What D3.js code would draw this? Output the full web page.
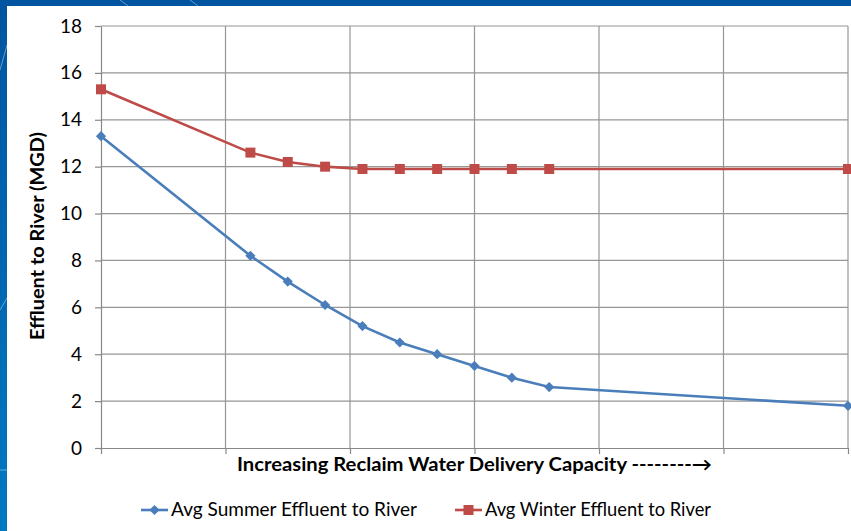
<!DOCTYPE html>
<html>
<head>
<meta charset="utf-8">
<script src="https://cdn.jsdelivr.net/npm/d3@7/dist/d3.min.js"></script>
<style>
  body { margin: 0; padding: 0; }
  svg { display: block; }
</style>
</head>
<body>
<svg id="chart" width="851" height="531"></svg>
<script>
// data
const capacity = [0, 1.2, 1.5, 1.8, 2.1, 2.4, 2.7, 3.0, 3.3, 3.6, 6];
const summer = [13.3, 8.2, 7.1, 6.1, 5.2, 4.5, 4.0, 3.5, 3.0, 2.6, 1.8];
const winter = [15.3, 12.6, 12.2, 12.0, 11.9, 11.9, 11.9, 11.9, 11.9, 11.9, 11.9];
const yTicks = [0, 2, 4, 6, 8, 10, 12, 14, 16, 18];
const xTicks = [0, 1, 2, 3, 4, 5, 6];
const seriesNames = ["Avg Summer Effluent to River", "Avg Winter Effluent to River"];

const width = 851;
const height = 531;
const margin = { top: 26, right: 3, bottom: 83, left: 101 };
const font = "Lato, 'Open Sans', sans-serif";

const svg = d3.select("#chart");

// slide background
const defs = svg.append("defs");
const grad = defs.append("linearGradient").attr("id", "bg")
  .attr("x1", 0).attr("y1", 0).attr("x2", 0).attr("y2", 1);
grad.append("stop").attr("offset", "0%").attr("stop-color", "#0054a0");
grad.append("stop").attr("offset", "100%").attr("stop-color", "#0079c2");
svg.append("rect").attr("width", width).attr("height", height).attr("fill", "url(#bg)");

// faint decorative lines on the backdrop
const deco = [[0, 70, 7, 45], [0, 310, 7, 298], [0, 470, 7, 470], [120, 0, 128, 6], [190, 0, 198, 6]];
deco.forEach(d => {
  svg.append("line")
    .attr("x1", d[0]).attr("y1", d[1]).attr("x2", d[2]).attr("y2", d[3])
    .attr("stroke", "#ffffff").attr("stroke-opacity", 0.5).attr("stroke-width", 0.8);
});

// white chart panel
svg.append("rect").attr("x", 7).attr("y", 6).attr("width", width - 7).attr("height", height - 6).attr("fill", "#ffffff");

// Scales
const xScale = d3.scaleLinear().domain([0, 6]).range([margin.left, width - margin.right]);
const yScale = d3.scaleLinear().domain([0, 18]).range([height - margin.bottom, margin.top]);

// Gridlines
const grid = svg.append("g");
grid.selectAll(".hg").data(yTicks.filter(d => d > 0)).join("line")
  .attr("x1", margin.left).attr("x2", width - margin.right)
  .attr("y1", d => yScale(d)).attr("y2", d => yScale(d))
  .attr("stroke", "#969696").attr("stroke-width", 1.2);
grid.selectAll(".vg").data(xTicks.filter(d => d > 0)).join("line")
  .attr("x1", d => xScale(d)).attr("x2", d => xScale(d))
  .attr("y1", margin.top).attr("y2", yScale(0))
  .attr("stroke", "#969696").attr("stroke-width", 1.2);

// Axes
const yAxis = d3.axisLeft(yScale).tickValues(yTicks).tickSize(6).tickPadding(13).tickSizeOuter(0);
const yG = svg.append("g").attr("transform", `translate(${margin.left},0)`).call(yAxis);
const xAxis = d3.axisBottom(xScale).tickValues(xTicks).tickSize(6).tickFormat("").tickSizeOuter(0);
const xG = svg.append("g").attr("transform", `translate(0,${yScale(0)})`).call(xAxis);
[yG, xG].forEach(g => {
  g.select(".domain").attr("stroke", "#888888").attr("stroke-width", 1.2);
  g.selectAll(".tick line").attr("stroke", "#888888").attr("stroke-width", 1.2);
});
yG.selectAll(".tick text")
  .attr("font-family", font).attr("font-size", "19px").attr("fill", "#000");

// Lines
const series = [
  { name: seriesNames[0], values: summer, color: "#4a7ebb", diamond: true },
  { name: seriesNames[1], values: winter, color: "#be4b48", diamond: false }
];

const line = d3.line()
  .x((d, i) => xScale(capacity[i]))
  .y(d => yScale(d));

const marker = s => d3.symbol().type(d3.symbolSquare).size(s.diamond ? 52 : 100)();
const markerRot = s => (s.diamond ? " rotate(45)" : "");

series.forEach(s => {
  svg.append("path")
    .datum(s.values)
    .attr("fill", "none")
    .attr("stroke", s.color)
    .attr("stroke-width", 2.6)
    .attr("d", line);

  svg.append("g").selectAll("path").data(s.values).join("path")
    .attr("transform", (d, i) => `translate(${xScale(capacity[i])},${yScale(d)})` + markerRot(s))
    .attr("d", marker(s))
    .attr("fill", s.color);
});

// Axis titles
svg.append("text")
  .attr("x", 237)
  .attr("y", 471)
  .attr("font-family", font)
  .attr("font-weight", "bold")
  .attr("font-size", "18px")
  .attr("textLength", 475)
  .attr("lengthAdjust", "spacingAndGlyphs")
  .text("Increasing Reclaim Water Delivery Capacity --------\u2192");

svg.append("text")
  .attr("transform", "translate(44,340) rotate(-90)")
  .attr("font-family", font)
  .attr("font-weight", "bold")
  .attr("font-size", "18px")
  .attr("textLength", 208)
  .attr("lengthAdjust", "spacingAndGlyphs")
  .text("Effluent to River (MGD)");

// Legend
const legendX = [141, 455];
const legendW = [246, 226];
series.forEach((s, i) => {
  const g = svg.append("g").attr("transform", `translate(${legendX[i]},510)`);
  g.append("line")
    .attr("x1", 0).attr("x2", 27).attr("y1", 0).attr("y2", 0)
    .attr("stroke", s.color).attr("stroke-width", 2.6);
  g.append("path")
    .attr("transform", "translate(13.5,0)" + markerRot(s))
    .attr("d", marker(s))
    .attr("fill", s.color);
  g.append("text")
    .attr("x", 30).attr("y", 6)
    .attr("font-family", font)
    .attr("font-size", "19px")
    .attr("fill", "#000")
    .attr("textLength", legendW[i])
    .attr("lengthAdjust", "spacingAndGlyphs")
    .text(s.name);
});
</script>
</body>
</html>
